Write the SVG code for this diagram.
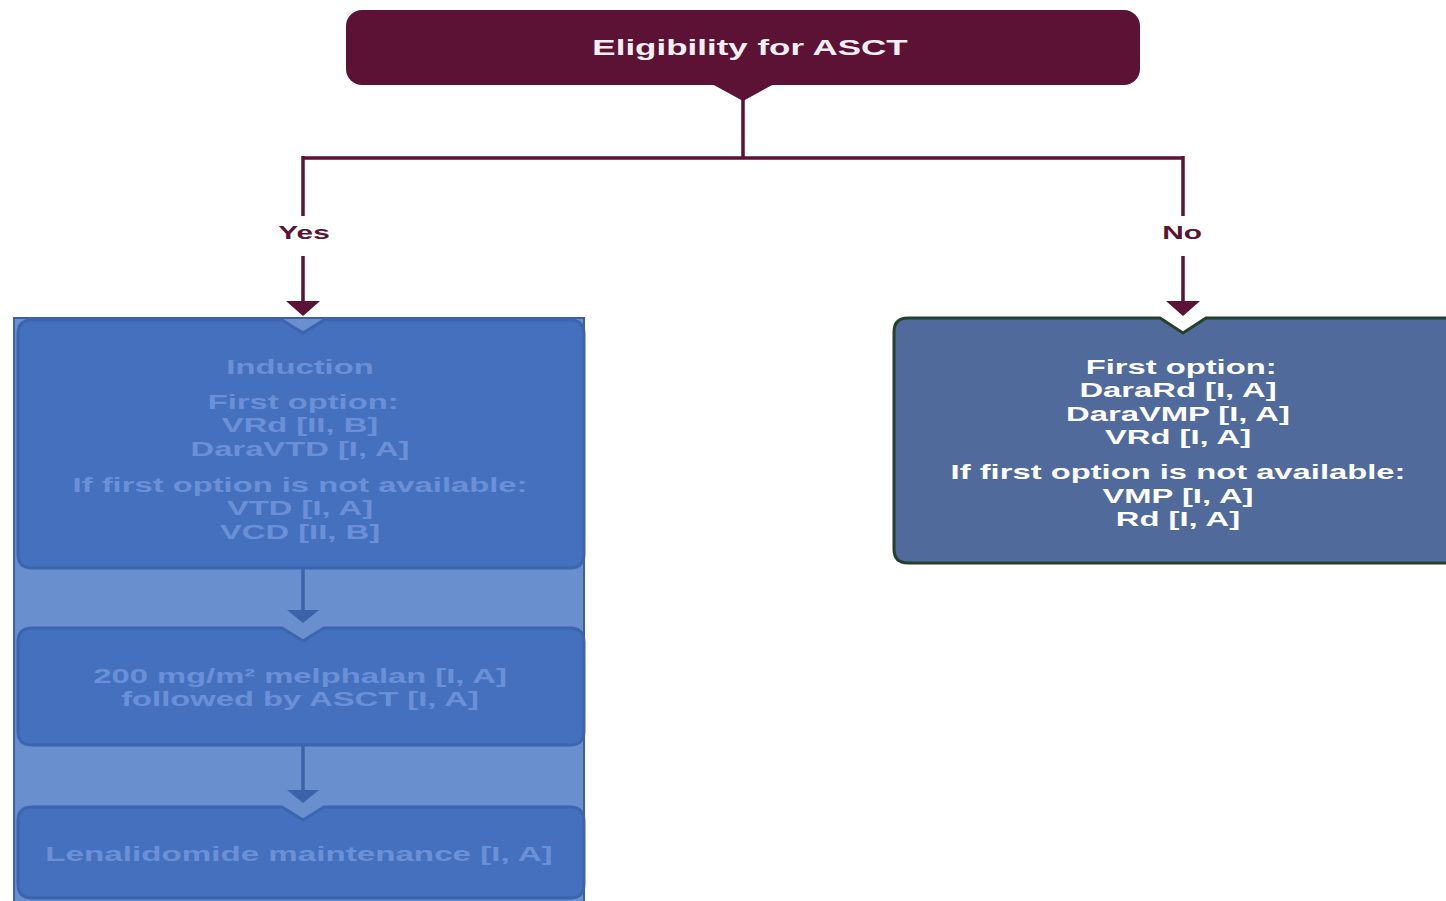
<svg xmlns="http://www.w3.org/2000/svg" width="1446" height="901" viewBox="0 0 1446 901">
<style>
.t{font-family:"Liberation Sans",Arial,sans-serif;font-weight:bold;text-anchor:middle}
.head{font-size:22px;fill:#f4eef2}
.lbl{font-size:19px;fill:#5c1234}
.rt{font-size:21px;fill:#ffffff}
.lt{font-size:21px;fill:#6b90d8}
.mar{stroke:#5c1234;stroke-width:3.5;fill:none}
.blu{stroke:#3c63aa;stroke-width:3.5;fill:none}
</style>
<rect x="0" y="0" width="1446" height="901" fill="#ffffff"/>
<g id="bg-left">
<rect x="14" y="318" width="570" height="590" fill="#6a8fcf" stroke="#3a5fa8" stroke-width="2"/>
</g>
<g id="connectors">
<path class="mar" d="M743,98 V158 M303,158 H1183 M303,156 V216 M1183,156 V216 M303,256 V303 M1183,256 V303"/>
<path d="M286,301 L320,301 L303,316 Z" fill="#5c1234"/>
<path d="M1166,301 L1200,301 L1183,316 Z" fill="#5c1234"/>
<path class="blu" d="M303,568 V612 M303,745 V792"/>
<path d="M287,610 L319,610 L303,623 Z" fill="#3c63aa"/>
<path d="M287,790 L319,790 L303,803 Z" fill="#3c63aa"/>
</g>
<g id="n-eligibility">
<rect x="346" y="10" width="794" height="75" rx="16" fill="#5c1234"/>
<path d="M712,84 L774,84 L743,101 Z" fill="#5c1234"/>
<text class="t head" transform="translate(750,55) scale(1.59,1)" x="0" y="0">Eligibility for ASCT</text>
</g>
<g id="l-yes"><text class="t lbl" transform="translate(304,239) scale(1.57,1)" x="0" y="0">Yes</text></g>
<g id="l-no"><text class="t lbl" transform="translate(1182,239) scale(1.57,1)" x="0" y="0">No</text></g>
<g id="n-induction">
<path d="M32,320 H282 L303,333 L324,320 H570 Q584,320 584,334 V554 Q584,568 570,568 H32 Q18,568 18,554 V334 Q18,320 32,320 Z" fill="#4570be" stroke="#3c65ae" stroke-width="3"/>
<g class="t lt" transform="translate(300,0) scale(1.56,1)">
<text x="0" y="374">Induction</text>
<text x="2" y="409">First option:</text>
<text x="0" y="432">VRd [II, B]</text>
<text x="0" y="456">DaraVTD [I, A]</text>
<text x="0" y="492">If first option is not available:</text>
<text x="0" y="515">VTD [I, A]</text>
<text x="0" y="539">VCD [II, B]</text>
</g>
</g>
<g id="n-melphalan">
<path d="M32,628 H282 L303,641 L324,628 H570 Q584,628 584,642 V731 Q584,745 570,745 H32 Q18,745 18,731 V642 Q18,628 32,628 Z" fill="#4570be" stroke="#3c65ae" stroke-width="3"/>
<g class="t lt" transform="translate(300,0) scale(1.56,1)">
<text x="0" y="683">200 mg/m² melphalan [I, A]</text>
<text x="0" y="706">followed by ASCT [I, A]</text>
</g>
</g>
<g id="n-lenalidomide">
<path d="M32,807 H282 L303,820 L324,807 H570 Q584,807 584,821 V884 Q584,898 570,898 H32 Q18,898 18,884 V821 Q18,807 32,807 Z" fill="#4570be" stroke="#3c65ae" stroke-width="3"/>
<text class="t lt" transform="translate(299,861) scale(1.58,1)" x="0" y="0">Lenalidomide maintenance [I, A]</text>
</g>
<g id="n-nonasct">
<path d="M908,318 H1160 L1183,333 L1206,318 H1450 V563 H908 Q894,563 894,549 V332 Q894,318 908,318 Z" fill="#506a9c" stroke="#24402a" stroke-width="3"/>
<g class="t rt" transform="translate(1178,0) scale(1.56,1)">
<text x="2" y="374">First option:</text>
<text x="0" y="397">DaraRd [I, A]</text>
<text x="0" y="421">DaraVMP [I, A]</text>
<text x="0" y="444">VRd [I, A]</text>
<text x="0" y="479">If first option is not available:</text>
<text x="0" y="503">VMP [I, A]</text>
<text x="0" y="526">Rd [I, A]</text>
</g>
</g>
</svg>
